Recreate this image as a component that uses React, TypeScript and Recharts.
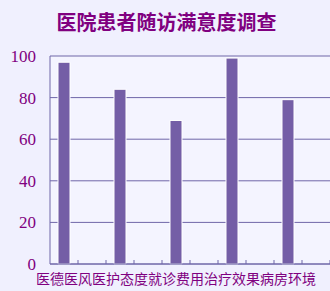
import { Bar, BarChart, CartesianGrid, XAxis, YAxis } from "recharts";

const title = "医院患者随访满意度调查";
const categories = ["医德医风", "医护态度", "就诊费用", "治疗效果", "病房环境"];
const scores = [97, 84, 69, 99, 79];
const yTicks = [0, 20, 40, 60, 80, 100];

const purple = "#800080";
const barColor = "#745ea6";
const lineColor = "#6f66a8";

// each category takes two slots on a numeric axis; the bar sits in the first one
const slotTicks = Array.from({ length: 21 }, (_, i) => i / 2);
const data = categories.map((name, i) => ({ name, slot: i * 2 + 0.5, score: scores[i] }));

function SlotTick(props: any) {
  const { x, y, payload } = props;
  const v = payload.value as number;
  if (Number.isInteger(v)) {
    if (v === 0) return null;
    return <line x1={x} x2={x} y1={y} y2={y - 4} stroke={lineColor} strokeWidth={1} />;
  }
  const hit = data.find((d) => d.slot === v);
  if (!hit) return null;
  return (
    <text x={x} y={y + 20} textAnchor="middle" fill={purple} fontSize={14} fontFamily="Noto Sans CJK SC">
      {hit.name}
    </text>
  );
}

function ScoreTick(props: any) {
  const { x, y, payload } = props;
  return (
    <text
      x={x}
      y={y + 6}
      textAnchor="end"
      fill={purple}
      fontSize={17}
      fontFamily="Liberation Serif, Times New Roman, serif"
    >
      {payload.value}
    </text>
  );
}

export default function App() {
  return (
    <div
      style={{
        position: "absolute",
        left: 0,
        top: 0,
        width: 330,
        height: 291,
        background: "#f0f0fe",
        fontFamily: "Liberation Serif, serif",
      }}
    >
      <div
        style={{
          position: "absolute",
          left: 0,
          top: 8,
          width: 333,
          textAlign: "center",
          fontFamily: "Noto Sans CJK SC",
          fontWeight: 700,
          fontSize: 20,
          lineHeight: "28px",
          color: purple,
        }}
      >
        {title}
      </div>
      <BarChart width={330} height={291} data={data} margin={{ top: 56, right: 0, left: 0, bottom: 0 }}>
        <CartesianGrid vertical={false} stroke={lineColor} fill="#f4f4ff" />
        <XAxis
          type="number"
          dataKey="slot"
          domain={[0, 10]}
          ticks={slotTicks}
          interval={0}
          height={27}
          tickSize={0}
          tickMargin={0}
          tickLine={false}
          stroke={lineColor}
          tick={<SlotTick />}
        />
        <YAxis
          domain={[0, 100]}
          ticks={yTicks}
          width={50}
          tickSize={0}
          tickMargin={14}
          tickLine={false}
          stroke={lineColor}
          tick={<ScoreTick />}
        />
        <Bar dataKey="score" fill={barColor} stroke="#ffffff" strokeWidth={1} barSize={12} isAnimationActive={false} />
      </BarChart>
    </div>
  );
}
